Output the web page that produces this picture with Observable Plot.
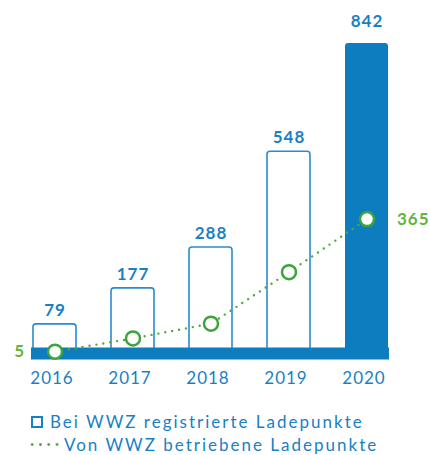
<!DOCTYPE html>
<html>
<head>
<meta charset="utf-8">
<script src="https://cdn.jsdelivr.net/npm/d3@7"></script>
<script src="https://cdn.jsdelivr.net/npm/@observablehq/plot@0.6"></script>
<style>
  body { margin: 0; background: #fff; font-family: Lato, sans-serif; }
  #legend { padding-left: 28px; margin-top: 10px; color: #1a7fc3; font-size: 17px; letter-spacing: 2px; }
  .row { display: flex; align-items: center; height: 23px; white-space: nowrap; }
  .sq { width: 8px; height: 8px; border: 2px solid #1a7fc3; margin-left: 3px; margin-right: 7px; }
  .dots { width: 33px; height: 3px; margin-right: 3px; background-image: radial-gradient(circle, #4aab3a 1.2px, transparent 1.5px); background-size: 8.3px 3px; background-repeat: repeat-x; }
</style>
</head>
<body>
<div id="chart"></div>
<div id="legend">
  <div class="row"><span class="sq"></span><span>Bei WWZ registrierte Ladepunkte</span></div>
  <div class="row"><span class="dots"></span><span>Von WWZ betriebene Ladepunkte</span></div>
</div>
<script>
const years = ["2016", "2017", "2018", "2019", "2020"];
const registered = [79, 177, 288, 548, 842];
const operated = [5, 41, 81, 221, 365];

const data = years.map((y, i) => ({year: y, reg: registered[i], op: operated[i]}));
const blue = "#0d7dc0";
const lineBlue = "#2a8bd1";
const green = "#3ba43b";
const greenText = "#62b53a";

const chart = Plot.plot({
  width: 430,
  height: 400,
  marginLeft: 31,
  marginRight: 41,
  marginTop: 43,
  marginBottom: 47,
  style: {fontFamily: "Lato, sans-serif", color: "#1a7fc3", background: "white"},
  x: {type: "band", domain: years, paddingInner: 0.454, paddingOuter: 0, label: null},
  y: {domain: [0, 842], axis: null},
  marks: [
    Plot.barY(data.filter(d => d.year !== "2020"), {x: "year", y: "reg", fill: "white", stroke: lineBlue, strokeWidth: 1.6, rx: 3}),
    Plot.barY(data.filter(d => d.year === "2020"), {x: "year", y: "reg", fill: blue, rx: 3}),
    Plot.ruleY([0], {stroke: blue, strokeWidth: 12}),
    Plot.axisX({tickSize: 0, tickPadding: 18, fontSize: 17, dx: -3, label: null}),
    Plot.text(data.filter(d => d.year !== "2020"), {x: "year", y: "reg", text: d => String(d.reg), dy: -14, fontSize: 17, fontWeight: "bold", fill: "#1a7fc3"}),
    Plot.text(data.filter(d => d.year === "2020"), {x: "year", y: "reg", text: d => String(d.reg), dy: -22, fontSize: 17, fontWeight: "bold", fill: "#1a7fc3"}),
    Plot.line(data, {x: "year", y: "op", stroke: "#4aab3a", strokeWidth: 2.4, strokeDasharray: "0 7", strokeLinecap: "round"}),
    Plot.dot(data, {x: "year", y: "op", r: 7, fill: "white", stroke: green, strokeWidth: 2.5}),
    Plot.text([data[0]], {x: "year", y: "op", text: d => String(d.op), dx: -30, textAnchor: "end", fontSize: 17, fontWeight: "bold", fill: greenText}),
    Plot.text([data[4]], {x: "year", y: "op", text: d => String(d.op), dx: 30, textAnchor: "start", fontSize: 17, fontWeight: "bold", fill: greenText})
  ]
});
document.getElementById("chart").appendChild(chart);
chart.querySelectorAll("text").forEach(t => t.style.letterSpacing = "1px");
</script>
</body>
</html>
